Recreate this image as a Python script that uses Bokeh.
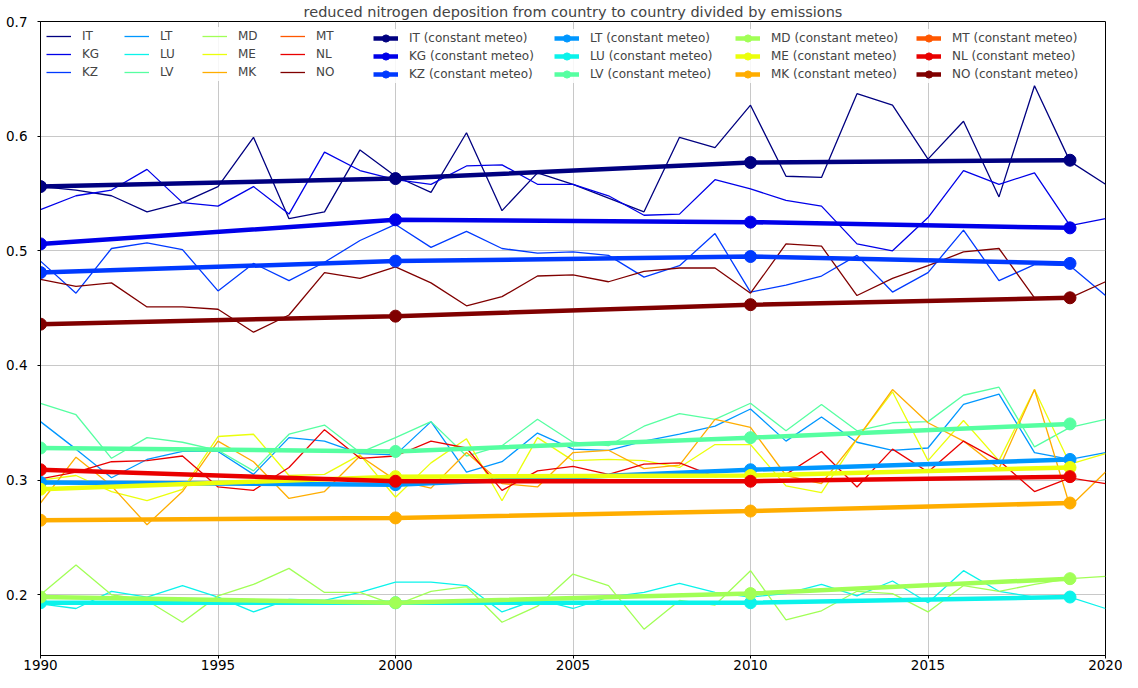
import math
from bokeh.plotting import figure
from bokeh.models import Range1d, FixedTicker, Legend, LegendItem
from bokeh.embed import file_html
from bokeh.resources import INLINE

years = list(range(1990, 2021))
const_years = [1990, 2000, 2010, 2019]
countries = ["IT", "KG", "KZ", "LT", "LU", "LV", "MD", "ME", "MK", "MT", "NL", "NO"]
colors = ["#000080", "#0000e9", "#003aff", "#0097ff", "#0bf3eb", "#56ffa1",
          "#a1ff56", "#ebff0b", "#ffad00", "#ff5700", "#e90000", "#800000"]

IT = [0.556, 0.553, 0.548, 0.534, 0.542, 0.556, 0.599, 0.528, 0.534, 0.588, 0.565,
      0.551, 0.603, 0.535, 0.568, 0.558, 0.546, 0.534, 0.599, 0.590, 0.627,
      0.565, 0.564, 0.637, 0.627, 0.580, 0.613, 0.547, 0.644, 0.578, 0.558]
KG = [0.536, 0.548, 0.553, 0.571, 0.542, 0.539, 0.556, 0.532, 0.586, 0.570, 0.562,
      0.558, 0.574, 0.575, 0.558, 0.558, 0.548, 0.531, 0.532, 0.562, 0.554,
      0.544, 0.539, 0.506, 0.500, 0.529, 0.570, 0.558, 0.568, 0.522, 0.528]
KZ = [0.491, 0.463, 0.502, 0.507, 0.501, 0.465, 0.489, 0.474, 0.490, 0.509, 0.523,
      0.503, 0.517, 0.502, 0.498, 0.499, 0.496, 0.477, 0.487, 0.515, 0.464,
      0.470, 0.478, 0.496, 0.464, 0.481, 0.518, 0.474, 0.488, 0.487, 0.461]
LT = [0.351, 0.327, 0.302, 0.318, 0.325, 0.325, 0.305, 0.337, 0.334, 0.323, 0.322,
      0.351, 0.307, 0.316, 0.341, 0.327, 0.326, 0.334, 0.340, 0.347, 0.362,
      0.334, 0.355, 0.333, 0.326, 0.328, 0.366, 0.375, 0.324, 0.318, 0.324]
LU = [0.192, 0.188, 0.203, 0.198, 0.208, 0.198, 0.185, 0.196, 0.195, 0.202, 0.211,
      0.211, 0.208, 0.185, 0.196, 0.188, 0.198, 0.202, 0.210, 0.202, 0.198,
      0.201, 0.209, 0.199, 0.212, 0.193, 0.221, 0.203, 0.198, 0.198, 0.188]
LV = [0.367, 0.357, 0.319, 0.337, 0.333, 0.326, 0.308, 0.340, 0.348, 0.324, 0.337,
      0.351, 0.321, 0.330, 0.353, 0.333, 0.330, 0.347, 0.358, 0.353, 0.367,
      0.343, 0.366, 0.343, 0.350, 0.351, 0.374, 0.381, 0.329, 0.346, 0.353]
MD = [0.200, 0.226, 0.200, 0.195, 0.176, 0.199, 0.209, 0.223, 0.202, 0.202, 0.191,
      0.203, 0.207, 0.176, 0.190, 0.218, 0.208, 0.170, 0.195, 0.191, 0.221,
      0.178, 0.186, 0.203, 0.201, 0.185, 0.208, 0.203, 0.209, 0.214, 0.216]
ME = [0.300, 0.304, 0.290, 0.282, 0.292, 0.338, 0.340, 0.304, 0.305, 0.322, 0.285,
      0.315, 0.336, 0.282, 0.337, 0.317, 0.318, 0.317, 0.311, 0.331, 0.331,
      0.295, 0.289, 0.336, 0.377, 0.317, 0.352, 0.317, 0.379, 0.314, 0.323]
MK = [0.280, 0.320, 0.295, 0.261, 0.290, 0.334, 0.316, 0.284, 0.290, 0.321, 0.300,
      0.293, 0.324, 0.297, 0.294, 0.324, 0.326, 0.310, 0.313, 0.353, 0.346,
      0.304, 0.297, 0.336, 0.379, 0.350, 0.334, 0.310, 0.379, 0.277, 0.307]
MT = [None] * 31
NL = [0.301, 0.307, 0.316, 0.317, 0.321, 0.294, 0.291, 0.311, 0.344, 0.319, 0.321,
      0.334, 0.328, 0.291, 0.308, 0.312, 0.305, 0.314, 0.315, 0.303, 0.305,
      0.305, 0.325, 0.294, 0.327, 0.307, 0.334, 0.317, 0.290, 0.302, 0.297]
NO = [0.475, 0.469, 0.472, 0.451, 0.451, 0.449, 0.429, 0.444, 0.481, 0.476, 0.486,
      0.472, 0.452, 0.460, 0.478, 0.479, 0.473, 0.482, 0.485, 0.485, 0.463,
      0.506, 0.504, 0.461, 0.476, 0.487, 0.499, 0.502, 0.459, 0.459, 0.473]

IT_c = [0.556, 0.563, 0.577, 0.579]
KG_c = [0.506, 0.527, 0.525, 0.520]
KZ_c = [0.481, 0.491, 0.495, 0.489]
LT_c = [0.298, 0.296, 0.309, 0.318]
LU_c = [0.193, 0.193, 0.193, 0.198]
LV_c = [0.328, 0.325, 0.337, 0.349]
MD_c = [0.198, 0.193, 0.201, 0.214]
ME_c = [0.292, 0.303, 0.304, 0.311]
MK_c = [0.265, 0.267, 0.273, 0.280]
MT_c = [None] * 4
NL_c = [0.309, 0.299, 0.299, 0.303]
NO_c = [0.436, 0.443, 0.453, 0.459]

annual = [IT, KG, KZ, LT, LU, LV, MD, ME, MK, MT, NL, NO]
constant = [IT_c, KG_c, KZ_c, LT_c, LU_c, LV_c, MD_c, ME_c, MK_c, MT_c, NL_c, NO_c]


def clean(vals):
    return [float("nan") if v is None else v for v in vals]


p = figure(width=1122, height=672, output_backend="svg", toolbar_location=None,
           x_range=Range1d(1990, 2020), y_range=Range1d(0.147, 0.7),
           title="reduced nitrogen deposition from country to country divided by emissions",
           min_border_left=40, min_border_right=17, min_border_top=0, min_border_bottom=0)

p.title.align = "center"
p.title.text_font = "DejaVu Sans"
p.title.text_font_size = "14.5px"
p.title.text_font_style = "normal"
p.title.standoff = 3
p.title.offset = 0

p.outline_line_color = "black"
p.outline_line_width = 1
p.background_fill_color = "white"

p.xaxis.ticker = FixedTicker(ticks=[1990, 1995, 2000, 2005, 2010, 2015, 2020])
p.yaxis.ticker = FixedTicker(ticks=[0.2, 0.3, 0.4, 0.5, 0.6, 0.7])
for ax in (p.xaxis, p.yaxis):
    ax.major_label_text_font = "DejaVu Sans"
    ax.major_label_text_font_size = "13.5px"
    ax.major_label_text_color = "black"
    ax.axis_line_color = "black"
    ax.major_tick_line_color = "black"
    ax.major_tick_out = 3
    ax.major_tick_in = 0
    ax.minor_tick_line_color = None
    ax.major_label_standoff = 1
p.yaxis.major_label_standoff = 10
p.xgrid.grid_line_color = "#b0b0b0"
p.ygrid.grid_line_color = "#b0b0b0"
p.xgrid.grid_line_alpha = 0.7
p.ygrid.grid_line_alpha = 0.7

items_a = []
for name, col, vals in zip(countries, colors, annual):
    r = p.line(years, clean(vals), line_color=col, line_width=1.3)
    items_a.append(LegendItem(label=name, renderers=[r]))

items_b = []
for name, col, vals in zip(countries, colors, constant):
    v = clean(vals)
    r1 = p.line(const_years, v, line_color=col, line_width=4.5)
    r2 = p.scatter(const_years, v, size=12, fill_color=col, line_color=col)
    items_b.append(LegendItem(label=name + " (constant meteo)", renderers=[r1, r2]))


def style(lg, label_w):
    lg.label_text_font = "DejaVu Sans"
    lg.label_text_font_size = "12px"
    lg.glyph_height = 18
    lg.label_height = 18
    lg.glyph_width = 25
    lg.label_standoff = 11
    lg.label_width = label_w
    lg.spacing = 0
    lg.padding = 7
    lg.margin = 6
    lg.background_fill_alpha = 0.85
    lg.border_line_color = None


leg_a = Legend(items=items_a, location="top_left", orientation="vertical", nrows=3)
style(leg_a, 42)
leg_b = Legend(items=items_b, location="top_right", orientation="vertical", nrows=3)
style(leg_b, 145)
leg_b.margin = 8
p.add_layout(leg_a, "center")
p.add_layout(leg_b, "center")

open("out.html", "w").write(file_html(p, INLINE))
